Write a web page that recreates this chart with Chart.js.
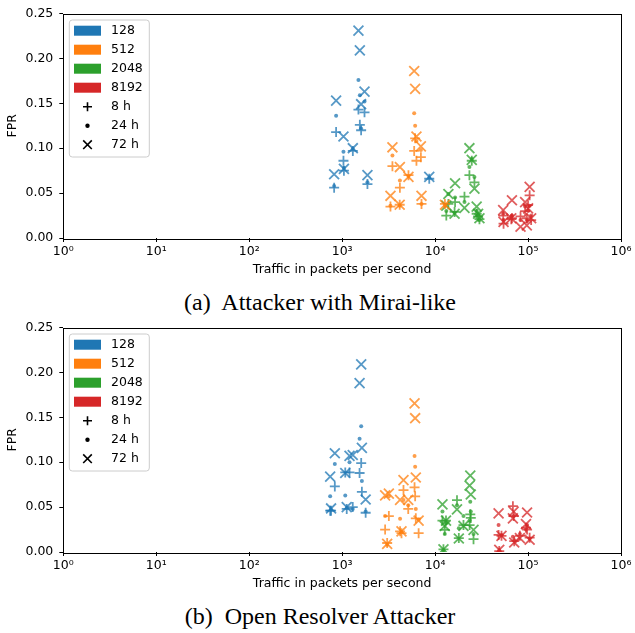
<!DOCTYPE html>
<html>
<head>
<meta charset="utf-8">
<script src="https://cdn.jsdelivr.net/npm/chart.js"></script>
<style>
  body { margin: 0; background: #fff; }
  .wrap { position: absolute; left: 0; width: 635px; height: 285px; }
  .cap { position: absolute; left: 0; width: 640px; text-align: center;
         font-family: "Liberation Serif", serif; font-size: 24px; color: #000; }
</style>
</head>
<body>
<div class="wrap" style="top:0"><canvas id="mirai" width="635" height="285"></canvas></div>
<div class="cap" style="top:289px">(a)&nbsp; Attacker with Mirai-like</div>
<div class="wrap" style="top:314px"><canvas id="resolver" width="635" height="285"></canvas></div>
<div class="cap" style="top:603px">(b)&nbsp; Open Resolver Attacker</div>
<script>
// bin sizes (colour) and window lengths (marker)
var binLabels = ['128', '512', '2048', '8192'];
var winLabels = ['8 h', '24 h', '72 h'];
var xTickLabels = ['10⁰', '10¹', '10²', '10³', '10⁴', '10⁵', '10⁶'];
var yTicks = [0, 0.05, 0.10, 0.15, 0.20, 0.25];

// (a) Mirai-like attacker: traffic rate (pkt/s) and FPR per window
var miraiRate128 = [820, 861, 1033, 1045, 1303, 1497, 1550, 1600, 1740, 1871, 8650];
var miraiFpr128_8h  = [0.056, 0.118, 0.086, 0.075, 0.097, 0.143, 0.126, 0.120, 0.140, 0.060, 0.066];
var miraiFpr128_24h = [0.058, 0.136, 0.096, 0.078, 0.099, 0.176, 0.159, 0.122, 0.152, 0.062, 0.067];
var miraiFpr128_72h = [0.071, 0.153, 0.113, 0.077, 0.100, 0.231, 0.209, 0.149, 0.163, 0.070, 0.068];

var miraiRate512 = [3310, 3475, 4160, 4180, 5170, 5957, 6100, 6300, 7030, 7140, 12760];
var miraiFpr512_8h  = [0.035, 0.080, 0.037, 0.056, 0.070, 0.097, 0.111, 0.086, 0.090, 0.038, 0.038];
var miraiFpr512_24h = [0.036, 0.092, 0.036, 0.064, 0.069, 0.139, 0.125, 0.108, 0.098, 0.038, 0.036];
var miraiFpr512_72h = [0.047, 0.101, 0.037, 0.079, 0.068, 0.186, 0.166, 0.113, 0.102, 0.047, 0.037];

var miraiRate2048 = [13200, 13900, 16200, 16400, 20700, 23400, 24800, 26500, 28000, 29000, 30000];
var miraiFpr2048_8h  = [0.025, 0.038, 0.029, 0.040, 0.046, 0.070, 0.086, 0.062, 0.027, 0.024, 0.021];
var miraiFpr2048_24h = [0.030, 0.049, 0.028, 0.045, 0.040, 0.079, 0.088, 0.068, 0.030, 0.026, 0.020];
var miraiFpr2048_72h = [0.036, 0.049, 0.027, 0.061, 0.0335, 0.100, 0.087, 0.055, 0.035, 0.027, 0.022];

var miraiRate8192 = [54000, 54500, 67100, 66000, 83000, 93000, 97000, 100000, 104000, 108000];
var miraiFpr8192_8h  = [0.025, 0.016, 0.022, 0.021, 0.024, 0.030, 0.022, 0.0365, 0.0475, 0.020];
var miraiFpr8192_24h = [0.027, 0.020, 0.025, 0.024, 0.020, 0.035, 0.020, 0.030, 0.036, 0.025];
var miraiFpr8192_72h = [0.031, 0.018, 0.042, 0.022, 0.0125, 0.040, 0.014, 0.033, 0.057, 0.022];

// (b) open resolver attacker
var resolverRate128 = [743, 760, 834, 1080, 1120, 1200, 1300, 1540, 1603, 1630, 1790];
var resolverFpr128_8h  = [0.046, 0.046, 0.073, 0.0886, 0.048, 0.0886, 0.050, 0.088, 0.099, 0.067, 0.0437];
var resolverFpr128_24h = [0.062, 0.047, 0.098, 0.063, 0.049, 0.100, 0.048, 0.126, 0.140, 0.079, 0.045];
var resolverFpr128_72h = [0.084, 0.0485, 0.110, 0.088, 0.050, 0.107, 0.108, 0.188, 0.209, 0.116, 0.0585];

var resolverRate512 = [2900, 3050, 3180, 4200, 4350, 4570, 5140, 6010, 6100, 6200, 6650];
var resolverFpr512_8h  = [0.025, 0.010, 0.040, 0.023, 0.021, 0.069, 0.048, 0.072, 0.062, 0.0375, 0.021];
var resolverFpr512_24h = [0.040, 0.008, 0.062, 0.037, 0.022, 0.058, 0.052, 0.107, 0.095, 0.048, 0.036];
var resolverFpr512_72h = [0.063, 0.009, 0.065, 0.058, 0.023, 0.080, 0.058, 0.1655, 0.149, 0.083, 0.035];

var resolverRate2048 = [12000, 12300, 13100, 12700, 17200, 18000, 20200, 23500, 23900, 24200, 25900];
var resolverFpr2048_8h  = [0.035, 0.003, 0.035, 0.0246, 0.0577, 0.0155, 0.030, 0.030, 0.042, 0.038, 0.0143];
var resolverFpr2048_24h = [0.045, 0.002, 0.032, 0.020, 0.052, 0.0265, 0.040, 0.035, 0.056, 0.045, 0.020];
var resolverFpr2048_72h = [0.053, 0.003, 0.035, 0.029, 0.0475, 0.015, 0.029, 0.074, 0.085, 0.064, 0.0246];

var resolverRate8192 = [48200, 49000, 51800, 68700, 70000, 71000, 81700, 95000, 97600, 104000];
var resolverFpr8192_8h  = [0.019, 0.001, 0.018, 0.051, 0.040, 0.012, 0.018, 0.027, 0.025, 0.016];
var resolverFpr8192_24h = [0.030, 0.002, 0.019, 0.017, 0.040, 0.013, 0.020, 0.025, 0.030, 0.015];
var resolverFpr8192_72h = [0.043, 0.0025, 0.018, 0.0375, 0.045, 0.0106, 0.0155, 0.031, 0.044, 0.0136];

var colors = ['31,119,180', '255,127,14', '44,160,44', '214,39,40'];
var FONT = '"DejaVu Sans", sans-serif';

function zipPts(xs, ys) {
  return xs.map(function (x, i) { return { x: x, y: ys[i] }; });
}

// one dataset per (bin, window): + for 8 h, dot for 24 h, x for 72 h
function buildSets(groups) {
  var sets = [];
  groups.forEach(function (g, ci) {
    var c = 'rgba(' + colors[ci] + ',0.75)';
    sets.push({ label: binLabels[ci] + ' ' + winLabels[0], data: zipPts(g[0], g[1]),
      pointStyle: 'cross', pointRadius: 5, borderWidth: 1.8, borderColor: c, backgroundColor: c });
    sets.push({ label: binLabels[ci] + ' ' + winLabels[1], data: zipPts(g[0], g[2]),
      pointStyle: 'circle', pointRadius: 2, borderWidth: 0, borderColor: c, backgroundColor: c });
    sets.push({ label: binLabels[ci] + ' ' + winLabels[2], data: zipPts(g[0], g[3]),
      pointStyle: 'crossRot', pointRadius: 7, borderWidth: 1.8, borderColor: c, backgroundColor: c });
  });
  return sets;
}

// matplotlib style frame and in-axes legend
var framePlugin = {
  id: 'frame',
  afterDraw: function (chart) {
    var ctx = chart.ctx, a = chart.chartArea;
    ctx.save();
    ctx.strokeStyle = '#000';
    ctx.lineWidth = 1;
    ctx.strokeRect(Math.round(a.left) + 0.5, Math.round(a.top) + 0.5,
      Math.round(a.right - a.left), Math.round(a.bottom - a.top));

    var bx = a.left + 6, by = a.top + 6.5, bw = 80, bh = 137, r = 3;
    ctx.beginPath();
    ctx.moveTo(bx + r, by);
    ctx.arcTo(bx + bw, by, bx + bw, by + bh, r);
    ctx.arcTo(bx + bw, by + bh, bx, by + bh, r);
    ctx.arcTo(bx, by + bh, bx, by, r);
    ctx.arcTo(bx, by, bx + bw, by, r);
    ctx.closePath();
    ctx.fillStyle = 'rgba(255,255,255,0.8)';
    ctx.fill();
    ctx.strokeStyle = '#cccccc';
    ctx.stroke();

    ctx.font = '12.5px ' + FONT;
    ctx.textBaseline = 'middle';
    ctx.fillStyle = '#000';
    var labels = binLabels.concat(winLabels);
    labels.forEach(function (lab, i) {
      var cy = by + 10.7 + i * 19;
      if (i < 4) {
        ctx.fillStyle = 'rgb(' + colors[i] + ')';
        ctx.fillRect(bx + 4.7, cy - 5, 27, 10);
      } else {
        var mx = bx + 18.2;
        ctx.strokeStyle = '#000';
        ctx.fillStyle = '#000';
        ctx.lineWidth = 1.6;
        ctx.beginPath();
        if (i === 4) {
          ctx.moveTo(mx - 4.5, cy); ctx.lineTo(mx + 4.5, cy);
          ctx.moveTo(mx, cy - 4.5); ctx.lineTo(mx, cy + 4.5);
          ctx.stroke();
        } else if (i === 5) {
          ctx.arc(mx, cy, 2.2, 0, Math.PI * 2);
          ctx.fill();
        } else {
          ctx.moveTo(mx - 4.3, cy - 4.3); ctx.lineTo(mx + 4.3, cy + 4.3);
          ctx.moveTo(mx + 4.3, cy - 4.3); ctx.lineTo(mx - 4.3, cy + 4.3);
          ctx.stroke();
        }
      }
      ctx.fillStyle = '#000';
      ctx.fillText(lab, bx + 41.7, cy + 0.5);
    });
    ctx.restore();
  }
};

function makeChart(id, groups) {
  return new Chart(document.getElementById(id), {
    type: 'scatter',
    data: { datasets: buildSets(groups) },
    plugins: [framePlugin],
    options: {
      responsive: false,
      animation: false,
      layout: { padding: { top: 12, right: 14, left: 0, bottom: 0 } },
      plugins: { legend: { display: false }, tooltip: { enabled: false } },
      scales: {
        x: {
          type: 'logarithmic', min: 1, max: 1e6,
          afterBuildTicks: function (axis) {
            axis.ticks = xTickLabels.map(function (l, i) { return { value: Math.pow(10, i) }; });
          },
          afterFit: function (axis) { axis.height = 47; },
          grid: { drawOnChartArea: false, drawTicks: true, tickLength: 4, color: '#000' },
          border: { display: false },
          ticks: {
            autoSkip: false, maxRotation: 0, padding: 2, color: '#000',
            font: { family: FONT, size: 12.5 },
            callback: function (v) { return xTickLabels[Math.round(Math.log10(v))]; }
          },
          title: { display: true, text: 'Traffic in packets per second', color: '#000',
            font: { family: FONT, size: 12.5 }, padding: { top: 0, bottom: 7.5 } }
        },
        y: {
          min: 0, max: 0.25,
          afterBuildTicks: function (axis) {
            axis.ticks = yTicks.map(function (v) { return { value: v }; });
          },
          afterFit: function (axis) { axis.width = 63.3; },
          grid: { drawOnChartArea: false, drawTicks: true, tickLength: 4, color: '#000' },
          border: { display: false },
          ticks: {
            padding: 6, color: '#000',
            font: { family: FONT, size: 12.5 },
            callback: function (v) { return v.toFixed(2); }
          },
          title: { display: true, text: 'FPR', color: '#000',
            font: { family: FONT, size: 12.5 }, padding: { top: 5, bottom: 0 } }
        }
      }
    }
  });
}

makeChart('mirai', [
  [miraiRate128, miraiFpr128_8h, miraiFpr128_24h, miraiFpr128_72h],
  [miraiRate512, miraiFpr512_8h, miraiFpr512_24h, miraiFpr512_72h],
  [miraiRate2048, miraiFpr2048_8h, miraiFpr2048_24h, miraiFpr2048_72h],
  [miraiRate8192, miraiFpr8192_8h, miraiFpr8192_24h, miraiFpr8192_72h]
]);
makeChart('resolver', [
  [resolverRate128, resolverFpr128_8h, resolverFpr128_24h, resolverFpr128_72h],
  [resolverRate512, resolverFpr512_8h, resolverFpr512_24h, resolverFpr512_72h],
  [resolverRate2048, resolverFpr2048_8h, resolverFpr2048_24h, resolverFpr2048_72h],
  [resolverRate8192, resolverFpr8192_8h, resolverFpr8192_24h, resolverFpr8192_72h]
]);
</script>
</body>
</html>
